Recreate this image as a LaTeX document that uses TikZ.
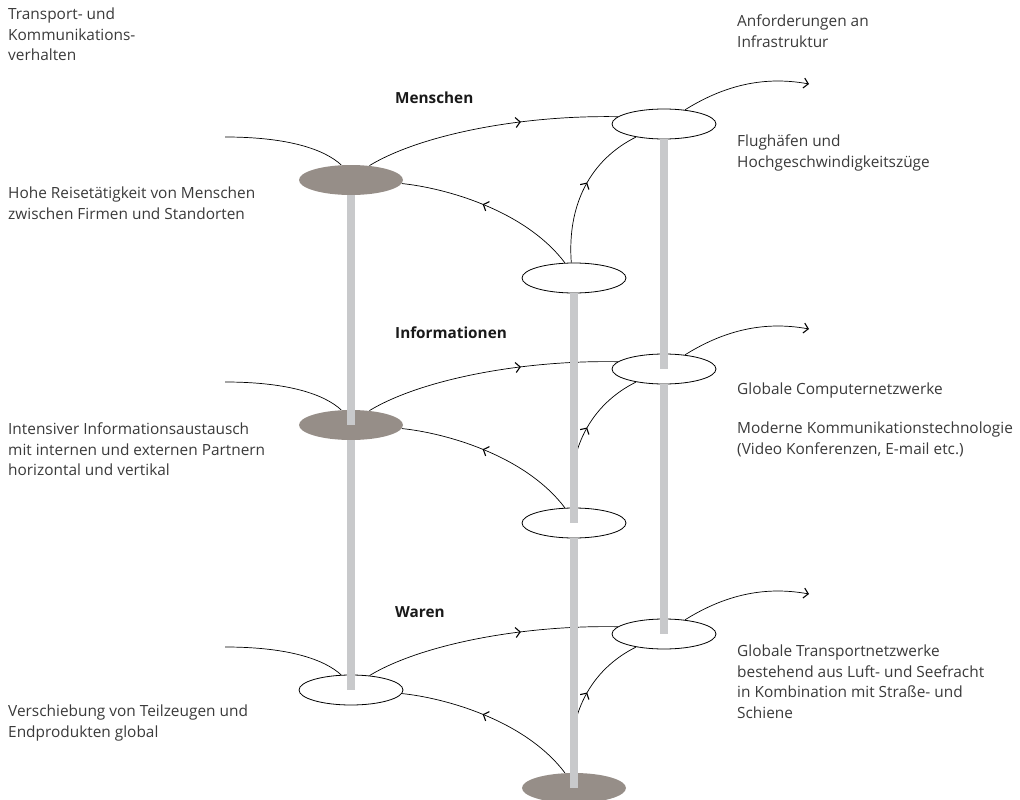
\documentclass[tikz,border=0pt]{standalone}
\usepackage{fontspec}
\setmainfont{Open Sans}
\usetikzlibrary{shapes.geometric,arrows.meta,decorations.markings}
\definecolor{txt}{HTML}{3A3A3A}
\definecolor{stone}{HTML}{968E88}
\definecolor{polegray}{HTML}{C8C9CB}
\begin{document}
\begin{tikzpicture}[x=1pt,y=-1pt,
  disc/.style={ellipse, minimum width=104pt, minimum height=30pt, inner sep=0pt, line width=0.8pt},
  conn/.style={draw=black, line width=0.7pt},
  barb/.tip={Straight Barb[length=4.5pt,width=10pt,line width=1.1pt]},
  midarrow/.style={postaction={decorate}, decoration={markings, mark=at position #1 with {\arrow{barb}}}},
  stem/.style={fill=polegray},
  lbl/.style={anchor=north west, inner sep=0pt, align=left, text=txt, font=\fontsize{15.4}{20.5}\selectfont},
  head/.style={anchor=west, inner sep=0pt, text=black!90, font=\fontsize{15.3}{17}\selectfont\bfseries}]
\useasboundingbox (0,0) rectangle (1020,800);

% discs
\foreach \r/\dy/\lf/\ld/\mf/\md in {1/0/stone/none/white/black, 2/245/stone/none/white/black, 3/510/white/black/stone/none} {
  \node[disc, fill=\lf, draw=\ld] (L\r) at (351,180+\dy) {};
  \node[disc, fill=\mf, draw=\md] (M\r) at (574,278+\dy) {};
  \node[disc, fill=white, draw=black] (R\r) at (664,124+\dy) {};
  \coordinate (I\r) at (225,137+\dy);
  \coordinate (O\r) at (809,84+\dy);
}

% connectors
\foreach \r/\dy in {1/0, 2/245, 3/510} {
  \draw[conn] (I\r) .. controls (290,137+\dy) and (325,150+\dy) .. (L\r.123);
  \draw[conn, midarrow=0.62] (L\r.38) .. controls (420,135+\dy) and (520,115+\dy) .. (R\r.171);
  \draw[conn, midarrow=0.55] (M\r.121) .. controls (525,210+\dy) and (445,188+\dy) .. (L\r.-4);
  \draw[conn, midarrow=0.55] (M\r.100) .. controls (567,205+\dy) and (590,160+\dy) .. (R\r.205);
  \draw[conn, -{barb}] (R\r.34) .. controls (720,88+\dy) and (760,75+\dy) .. (O\r);
}

% poles
\foreach \c in {L,M,R} {
  \fill[stem] ([xshift=-4pt]\c1.south) rectangle ([xshift=4pt]\c2.center);
  \fill[stem] ([xshift=-4pt]\c2.south) rectangle ([xshift=4pt]\c3.center);
}

% headings
\node[head] (h1) at (395,97.5) {Menschen};
\node[head] (h2) at (395,333) {Informationen};
\node[head] (h3) at (395,612.5) {Waren};

% left texts
\node[lbl] (t1) at (8,8) {Transport- und\\Kommunikations-\\verhalten};
\node[lbl] (t2) at (8,187) {Hohe Reisetätigkeit von Menschen\\zwischen Firmen und Standorten};
\node[lbl] (t3) at (8,423) {Intensiver Informationsaustausch\\mit internen und externen Partnern\\horizontal und vertikal};
\node[lbl] (t4) at (8,705) {Verschiebung von Teilzeugen und\\Endprodukten global};

% right texts
\node[lbl] (r1) at (737,15) {Anforderungen an\\Infrastruktur};
\node[lbl] (r2) at (737,135) {Flughäfen und\\Hochgeschwindigkeitszüge};
\node[lbl] (r3) at (737,383) {Globale Computernetzwerke};
\node[lbl] (r4) at (737,422) {Moderne Kommunikationstechnologie\\(Video Konferenzen, E-mail etc.)};
\node[lbl] (r5) at (737,645) {Globale Transportnetzwerke\\bestehend aus Luft- und Seefracht\\in Kombination mit Straße- und\\Schiene};
\end{tikzpicture}
\end{document}
